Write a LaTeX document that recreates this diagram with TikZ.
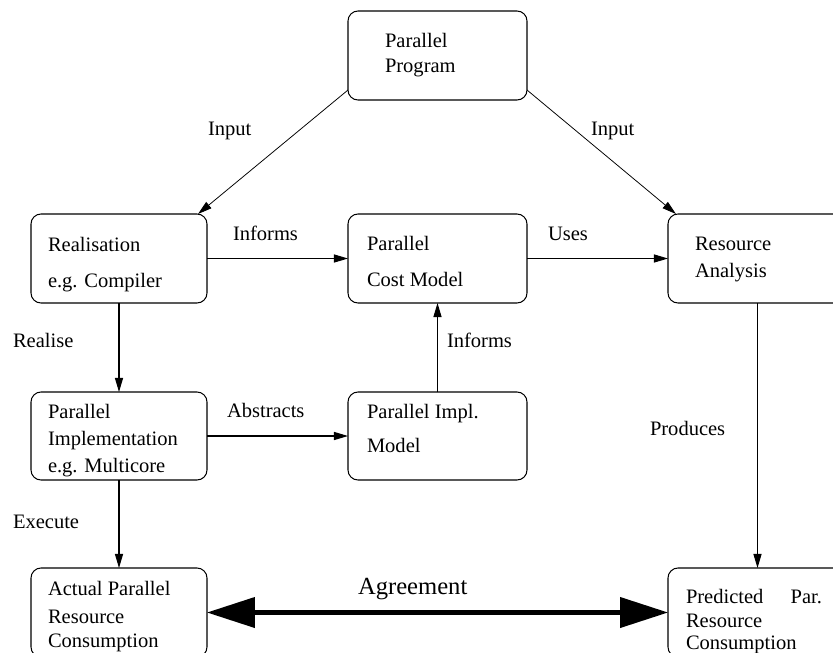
\documentclass[tikz,border=0pt]{standalone}
\usepackage{fontspec}
\setmainfont{Liberation Serif}
\usetikzlibrary{arrows.meta,calc}
\newdimen\pxunit
\pxunit=0.585pt
\begin{document}
\begin{tikzpicture}[x=0.585pt,y=-0.585pt,
  font=\fontsize{12}{14}\selectfont,
  box/.style={draw, rounded corners=10*\pxunit, line width=0.6pt, inner sep=0pt, outer sep=0pt, minimum width=179*\pxunit, minimum height=89*\pxunit},
  narrowbox/.style={box, minimum width=176*\pxunit},
  txt/.style={anchor=base west, inner sep=0pt, outer sep=0pt},
  arr/.style={-{Triangle[length=8.2pt,width=4.7pt]}, line width=0.6pt},
  thinarr/.style={arr, line width=0.45pt},
  bigarr/.style={{Triangle[length=28pt,width=17.5pt]}-{Triangle[length=28pt,width=17.5pt]}, line width=2.4pt}
]
\useasboundingbox (0,0) rectangle (833,652);
\clip (0,0) rectangle (833,652);
% boxes
\node[box] (top) at (437.5,55.5) {};
\node[narrowbox] (real) at (119,258.5) {};
\node[box] (cost) at (437.5,258.5) {};
\node[box] (res) at (757.5,258.5) {};
\node[narrowbox, minimum height=88*\pxunit] (impl) at (119,436) {};
\node[box, minimum height=88*\pxunit] (imodel) at (437.5,436) {};
\node[narrowbox] (actual) at (119,612.5) {};
\node[box] (pred) at (757.5,612.5) {};
% box texts
\node[txt] (top1) at (385,47) {Parallel};
\node[txt] (top2) at (385,72) {Program};
\node[txt] (real1) at (48,251) {Realisation};
\node[txt] (real2) at (48,287) {e.g. Compiler};
\node[txt] (cost1) at (367,250) {Parallel};
\node[txt] (cost2) at (367,286) {Cost Model};
\node[txt] (res1) at (695,250) {Resource};
\node[txt] (res2) at (695,277) {Analysis};
\node[txt] (impl1) at (48,418) {Parallel};
\node[txt] (impl2) at (48,445) {Implementation};
\node[txt] (impl3) at (48,472) {e.g. Multicore};
\node[txt] (imodel1) at (367,418) {Parallel Impl.};
\node[txt] (imodel2) at (367,452) {Model};
\node[txt] (act1) at (48,595) {Actual Parallel};
\node[txt] (act2) at (48,623) {Resource};
\node[txt] (act3) at (48,647) {Consumption};
\node[txt] (pred1) at (686,603) {\makebox[136\pxunit][s]{Predicted\hfill Par.}};
\node[txt] (pred2) at (686,627) {Resource};
\node[txt] (pred3) at (686,649) {Consumption};
% connector labels
\node[txt] (linput) at (208,135) {Input};
\node[txt] (rinput) at (591,135) {Input};
\node[txt] (linforms) at (233,240) {Informs};
\node[txt] (luses) at (548,240) {Uses};
\node[txt] (lrealise) at (13,347) {Realise};
\node[txt] (minforms) at (447,347) {Informs};
\node[txt] (labstracts) at (227,417) {Abstracts};
\node[txt] (lproduces) at (650,435) {Produces};
\node[txt] (lexecute) at (13,528) {Execute};
\node[txt, font=\fontsize{14.4}{16}\selectfont] (lagree) at (358,594) {Agreement};
% connectors
\draw[thinarr] ($(top.south west)+(0,-10)$) -- ($(real.north east)+(-9,0)$);
\draw[thinarr] ($(top.south east)+(0,-10)$) -- ($(res.north west)+(8,0)$);
\draw[arr] (real.east) -- (cost.west);
\draw[arr] (cost.east) -- (res.west);
\draw[arr] (real.south) -- (impl.north);
\draw[arr] (impl.east) -- (imodel.west);
\draw[arr] (imodel.north) -- (cost.south);
\draw[arr] (impl.south) -- (actual.north);
\draw[arr] (res.south) -- (pred.north);
\draw[bigarr] (actual.east) -- (pred.west);
\end{tikzpicture}
\end{document}
